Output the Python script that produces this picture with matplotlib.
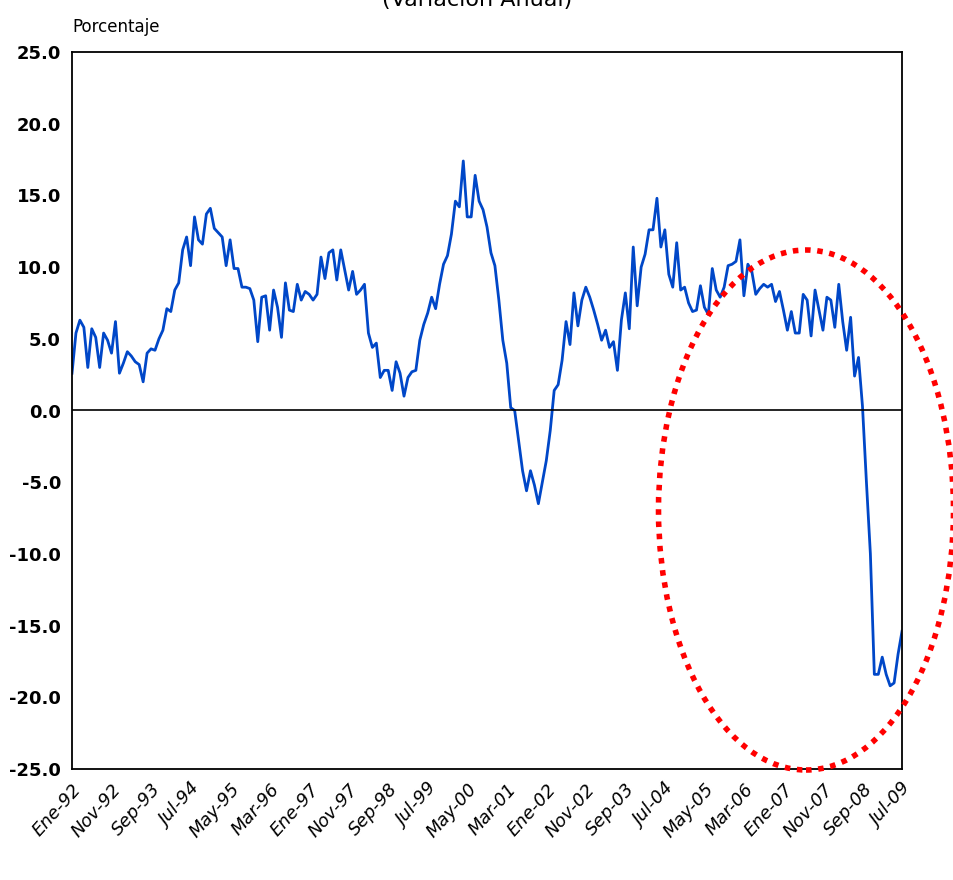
import matplotlib
matplotlib.use("Agg")
import matplotlib.pyplot as plt
import numpy as np
from matplotlib.patches import Ellipse

values = [
    2.6, 5.4, 6.3, 5.8, 3.0, 5.7, 5.1, 3.0, 5.4, 4.9, 4.0, 6.2, 2.6, 3.3, 4.1, 3.8, 3.4, 3.2, 2.0, 4.0,
    4.3, 4.2, 5.0, 5.6, 7.1, 6.9, 8.4, 8.9, 11.2, 12.1, 10.1, 13.5, 11.9, 11.6, 13.7, 14.1, 12.7, 12.4, 12.1, 10.1,
    11.9, 9.9, 9.9, 8.6, 8.6, 8.5, 7.7, 4.8, 7.9, 8.0, 5.6, 8.4, 7.2, 5.1, 8.9, 7.0, 6.9, 8.8, 7.7, 8.3,
    8.1, 7.7, 8.1, 10.7, 9.2, 11.0, 11.2, 9.1, 11.2, 9.8, 8.4, 9.7, 8.1, 8.4, 8.8, 5.4, 4.4, 4.7, 2.3, 2.8,
    2.8, 1.4, 3.4, 2.6, 1.0, 2.3, 2.7, 2.8, 4.9, 6.0, 6.8, 7.9, 7.1, 8.8, 10.2, 10.8, 12.3, 14.6, 14.2, 17.4,
    13.5, 13.5, 16.4, 14.6, 14.0, 12.8, 11.0, 10.1, 7.7, 4.9, 3.3, 0.2, 0.0, -2.1, -4.2, -5.6, -4.2, -5.2, -6.5, -5.0,
    -3.5, -1.4, 1.4, 1.8, 3.5, 6.2, 4.6, 8.2, 5.9, 7.7, 8.6, 7.9, 7.0, 6.0, 4.9, 5.6, 4.4, 4.8, 2.8, 6.3,
    8.2, 5.7, 11.4, 7.3, 10.0, 10.9, 12.6, 12.6, 14.8, 11.4, 12.6, 9.5, 8.6, 11.7, 8.4, 8.6, 7.5, 6.9, 7.0, 8.7,
    7.2, 6.7, 9.9, 8.4, 7.9, 8.6, 10.1, 10.2, 10.4, 11.9, 8.0, 10.2, 9.7, 8.1, 8.5, 8.8, 8.6, 8.8, 7.6, 8.3,
    7.0, 5.6, 6.9, 5.4, 5.4, 8.1, 7.7, 5.2, 8.4, 7.0, 5.6, 7.9, 7.7, 5.8, 8.8, 6.2, 4.2, 6.5, 2.4, 3.7,
    0.3, -5.0, -10.0, -18.4, -18.4, -17.2, -18.4, -19.2, -19.0, -17.0, -15.4,
]
tick_labels = [
    "Ene-92", "Nov-92", "Sep-93", "Jul-94", "May-95", "Mar-96", "Ene-97", "Nov-97", "Sep-98", "Jul-99",
    "May-00", "Mar-01", "Ene-02", "Nov-02", "Sep-03", "Jul-04", "May-05", "Mar-06", "Ene-07", "Nov-07",
    "Sep-08", "Jul-09",
]
y_ticks = [25, 20, 15, 10, 5, 0, -5, -10, -15, -20, -25]

fig = plt.figure(figsize=(9.54, 8.8), dpi=100)
fig.patch.set_facecolor("white")
ax = fig.add_axes([72 / 954, 1 - 769 / 880, 830 / 954, 717 / 880])

months = np.arange(len(values))
ax.plot(months, values, color="#0047c8", linewidth=2.0)
ax.axhline(0, color="black", linewidth=1.2)

ax.set_xlim(0, len(values) - 1)
ax.set_ylim(-25, 25)
ax.set_yticks(y_ticks)
ax.set_yticklabels([f"{v:.1f}" for v in y_ticks], fontsize=13, fontweight="bold")
ax.set_xticks(np.arange(0, len(values), 10))
ax.set_xticklabels(tick_labels, rotation=48, ha="right", rotation_mode="anchor",
                   fontsize=13, fontstyle="italic")
ax.tick_params(length=0, pad=8)
for s in ax.spines.values():
    s.set_linewidth(1.3)

fig.text(72 / 954, 1 - 27 / 880, "Porcentaje", fontsize=12, va="center")
fig.text(0.5, 1.0, "(Variación Anual)", fontsize=16, ha="center", va="center")

ell = Ellipse((806 / 954, 1 - 510 / 880), 295 / 954, 520 / 880, transform=fig.transFigure,
              fill=False, edgecolor="#ff0000", linewidth=4, linestyle=(0, (1, 1.2)))
fig.add_artist(ell)

fig.savefig("out.png", dpi=100)
